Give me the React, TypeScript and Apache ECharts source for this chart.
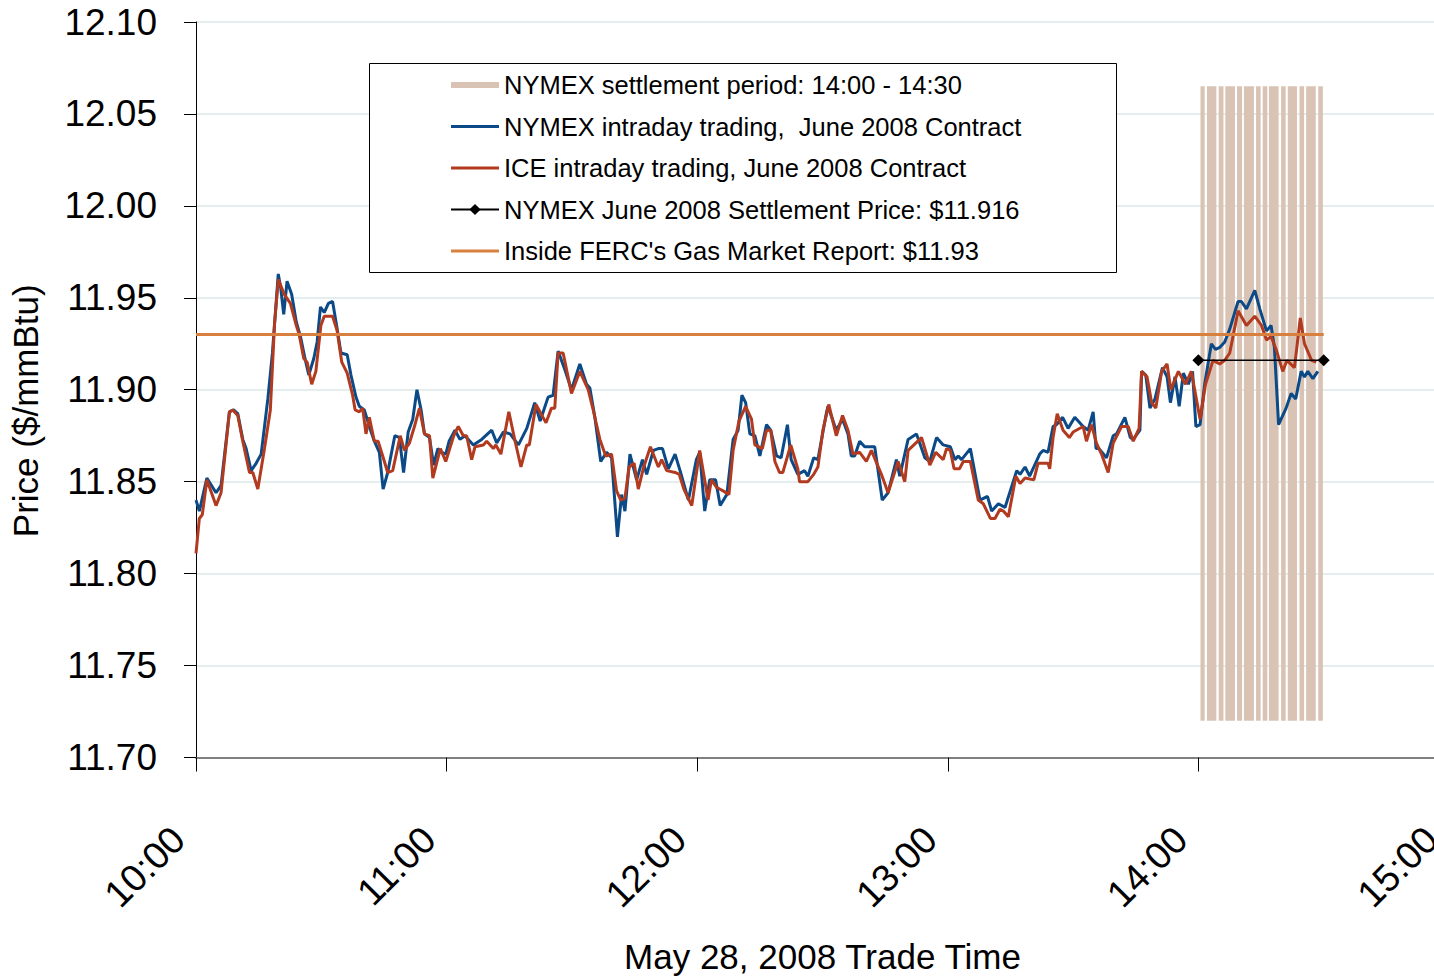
import React, { useEffect, useRef } from "react";
import * as echarts from "echarts";

// minutes after 10:00
const nymexTimes = [
  0, 0.8, 2.6, 4.8, 6, 8, 9, 10, 11.2, 12, 13.2, 14.4, 15.6, 17.2, 18.3, 19.7, 20.3, 21, 21.8, 22.9,
  24, 25.1, 26, 27, 28.2, 29, 29.8, 30.7, 31.7, 32.7, 33.8, 34.7, 36.2, 37.1, 38.3, 39.1, 40.3, 41.5, 42.7, 43.9,
  44.8, 45.9, 47.6, 48.7, 49.7, 50.8, 51.9, 52.9, 53.9, 54.7, 55.9, 56.9, 57.9, 58.7, 59.8, 60.6, 62, 63.2, 64.4, 66.4,
  68.4, 70.8, 72, 73.6, 75.2, 77.2, 79.2, 81.1, 82.4, 84.3, 85.5, 86.7, 88.3, 89.9, 91.9, 93.5, 94.3, 95.5, 96.9, 98.3,
  99.5, 100.9, 101.9, 102.7, 103.9, 105.5, 106.9, 107.9, 109.5, 110.7, 111.7, 113.1, 114.7, 115.9, 117.9, 119.8, 120.6, 121.8, 123, 124.4,
  125.5, 127.1, 128.6, 129.8, 130.7, 131.6, 132.6, 133.8, 135, 136.6, 137.6, 139, 140.1, 141.6, 142.5, 144.1, 145.7, 146.5, 147.9, 148.9,
  150.9, 151.3, 153.3, 154.8, 156.1, 156.9, 157.7, 158.9, 160.1, 162.5, 164.3, 165.7, 167.7, 168.5, 170.5, 172.5, 174.5, 175.7, 177.3, 178.9,
  180.6, 181.7, 182.5, 183.3, 185.4, 187.7, 189.5, 190.5, 192.1, 193.7, 196.5, 197.3, 198.5, 199.6, 202, 202.8, 204, 205.2, 206, 207.5,
  208.8, 210.4, 212.4, 213.6, 214.8, 215.5, 216.2, 218, 219.6, 220.4, 222.4, 223.7, 224.4, 226, 226.4, 227.4, 228.4, 229.6, 231.4, 232.5,
  233.3, 234.4, 235.4, 236.4, 237.6, 238.6, 239.4, 240.4, 241.5, 243.1, 244.1, 245.1, 246.3, 247.5, 249.5, 250.3, 251.5, 253.5, 254.7, 256.3,
  257.4, 258.2, 259.2, 261, 262.2, 263.3, 264.6, 265.4, 266.2, 267.4, 268.6,
];
const nymexPrices = [
  11.840, 11.834, 11.852, 11.844, 11.848, 11.888, 11.889, 11.887, 11.873, 11.868, 11.856, 11.860, 11.865, 11.895, 11.920, 11.963, 11.955, 11.941, 11.959, 11.952,
  11.937, 11.928, 11.918, 11.908, 11.917, 11.926, 11.945, 11.942, 11.947, 11.948, 11.933, 11.920, 11.919, 11.908, 11.896, 11.891, 11.889, 11.880, 11.872, 11.866,
  11.846, 11.855, 11.875, 11.874, 11.855, 11.877, 11.884, 11.900, 11.889, 11.876, 11.874, 11.859, 11.868, 11.866, 11.865, 11.872, 11.878, 11.873, 11.875, 11.870,
  11.873, 11.878, 11.871, 11.877, 11.876, 11.870, 11.879, 11.893, 11.883, 11.896, 11.897, 11.921, 11.911, 11.900, 11.914, 11.903, 11.901, 11.885, 11.861, 11.866,
  11.863, 11.820, 11.843, 11.834, 11.865, 11.851, 11.862, 11.854, 11.867, 11.868, 11.868, 11.857, 11.865, 11.856, 11.840, 11.862, 11.866, 11.834, 11.851, 11.851,
  11.837, 11.843, 11.873, 11.878, 11.897, 11.893, 11.876, 11.875, 11.864, 11.881, 11.878, 11.864, 11.863, 11.881, 11.862, 11.854, 11.856, 11.853, 11.863, 11.862,
  11.887, 11.891, 11.878, 11.884, 11.876, 11.864, 11.864, 11.872, 11.869, 11.869, 11.840, 11.844, 11.862, 11.853, 11.873, 11.876, 11.863, 11.861, 11.874, 11.870,
  11.869, 11.862, 11.864, 11.862, 11.868, 11.840, 11.842, 11.834, 11.838, 11.836, 11.856, 11.854, 11.858, 11.853, 11.865, 11.867, 11.866, 11.880, 11.881, 11.885,
  11.879, 11.885, 11.880, 11.878, 11.888, 11.868, 11.868, 11.863, 11.875, 11.876, 11.885, 11.874, 11.873, 11.878, 11.910, 11.908, 11.890, 11.895, 11.912, 11.907,
  11.893, 11.907, 11.891, 11.909, 11.903, 11.910, 11.880, 11.881, 11.903, 11.925, 11.922, 11.923, 11.926, 11.933, 11.948, 11.948, 11.944, 11.954, 11.944, 11.932,
  11.935, 11.923, 11.881, 11.890, 11.898, 11.895, 11.910, 11.907, 11.910, 11.906, 11.910,
];

const iceTimes = [
  0, 0.8, 1.5, 2.6, 4.8, 6, 8, 8.8, 10, 11.2, 12.8, 13.6, 14.8, 16.4, 17.8, 18.8, 19.7, 21.1, 22.6, 24,
  24.7, 25.8, 26.6, 27.7, 28.7, 29.9, 30.7, 32.7, 33.8, 34.9, 36.2, 37.5, 38.1, 39.1, 39.9, 40.7, 41.5, 42.7, 43.6, 44.7,
  45.9, 47.1, 48.9, 49.9, 51.1, 52.3, 53.5, 54.7, 55.9, 56.7, 58.5, 59.8, 61.7, 62.8, 64, 64.8, 66, 66.8, 68.8, 69.6,
  71.2, 71.8, 73, 74.9, 76.4, 77.8, 79.2, 79.8, 81.4, 83.8, 85.1, 85.9, 86.7, 87.9, 89.9, 91.9, 93.9, 95.1, 96.7, 98.1,
  99.5, 100.7, 101.7, 102.7, 103.7, 104.9, 105.9, 107.2, 108.8, 110.7, 111.5, 112.7, 114.7, 115.7, 116.8, 118.7, 120.6, 122.6, 123.4, 124.6,
  126.2, 127.6, 128.6, 130, 131.6, 133, 133.8, 135.6, 136.6, 137.6, 138.6, 139.7, 140.5, 142.4, 144.1, 144.5, 146.5, 147.9, 148.9, 150.1,
  151.5, 153.3, 154.8, 156.1, 157.3, 158.9, 160.5, 161.7, 164.1, 165.7, 168.1, 169.7, 170.5, 173.7, 175.7, 177.1, 178.9, 179.7, 180.6, 181.5,
  182.8, 183.7, 185.4, 187.3, 188.5, 190.2, 191.3, 192.5, 193.3, 194.5, 196.3, 197.3, 198.5, 200.6, 201.6, 204, 204.4, 205.2, 206.2, 207.6,
  209.1, 210, 212.4, 213.2, 214.4, 215.6, 216.8, 218.4, 219.6, 221.6, 223.2, 224.4, 225.8, 226.4, 227.7, 228.8, 229.8, 231.2, 232.5, 233.4,
  235.2, 236.9, 238.3, 240.4, 241.7, 243.5, 245.1, 246.3, 247.5, 249.5, 251.5, 253.5, 255.1, 256.3, 257.4, 258.6, 260.2, 261.2, 263, 264.4,
  265.4, 267.1, 268.2,
];
const icePrices = [
  11.811, 11.830, 11.832, 11.851, 11.837, 11.844, 11.888, 11.889, 11.886, 11.872, 11.855, 11.855, 11.846, 11.868, 11.889, 11.936, 11.960, 11.952, 11.947, 11.935,
  11.930, 11.917, 11.915, 11.903, 11.910, 11.935, 11.940, 11.940, 11.932, 11.915, 11.909, 11.897, 11.889, 11.888, 11.890, 11.876, 11.885, 11.872, 11.872, 11.864,
  11.855, 11.856, 11.875, 11.867, 11.871, 11.880, 11.890, 11.876, 11.875, 11.852, 11.868, 11.861, 11.875, 11.880, 11.875, 11.875, 11.862, 11.869, 11.870, 11.872,
  11.868, 11.870, 11.865, 11.888, 11.872, 11.858, 11.870, 11.870, 11.892, 11.882, 11.890, 11.890, 11.920, 11.920, 11.898, 11.910, 11.900, 11.889, 11.873, 11.864,
  11.865, 11.845, 11.840, 11.841, 11.858, 11.860, 11.846, 11.858, 11.869, 11.858, 11.862, 11.856, 11.855, 11.854, 11.846, 11.837, 11.867, 11.840, 11.851, 11.847,
  11.845, 11.843, 11.867, 11.883, 11.891, 11.884, 11.870, 11.868, 11.878, 11.878, 11.861, 11.855, 11.855, 11.870, 11.857, 11.850, 11.850, 11.854, 11.858, 11.878,
  11.892, 11.875, 11.886, 11.878, 11.865, 11.866, 11.861, 11.867, 11.854, 11.844, 11.861, 11.850, 11.867, 11.874, 11.859, 11.866, 11.862, 11.868, 11.867, 11.857,
  11.857, 11.861, 11.861, 11.840, 11.838, 11.830, 11.830, 11.835, 11.834, 11.831, 11.853, 11.849, 11.852, 11.851, 11.860, 11.860, 11.857, 11.874, 11.887, 11.878,
  11.874, 11.877, 11.880, 11.872, 11.881, 11.871, 11.865, 11.855, 11.871, 11.880, 11.880, 11.872, 11.879, 11.910, 11.907, 11.893, 11.890, 11.910, 11.914, 11.900,
  11.910, 11.903, 11.910, 11.884, 11.903, 11.916, 11.914, 11.916, 11.920, 11.943, 11.935, 11.940, 11.935, 11.927, 11.929, 11.922, 11.910, 11.916, 11.912, 11.939,
  11.925, 11.916, 11.915,
];

// settlement period band (14:00 - 14:30): start / end minute of each bar
const bandStarts = [240.5, 242.05, 244.85, 246.45, 249.25, 250.9, 253.8, 255.4, 256.9, 259.8, 261.4, 264.2, 265.8, 268.7];
const bandEnds = [241.5, 244.3, 246.0, 248.75, 250.45, 253.3, 254.9, 256.5, 259.2, 260.9, 263.6, 265.3, 268.1, 269.8];
const bandLow = 11.72;
const bandHigh = 12.065;

const settlementTimes = [240, 270];
const settlementPrice = 11.916;
const fercTimes = [0, 270];
const fercPrice = 11.93;

const xTickLabels = ["10:00", "11:00", "12:00", "13:00", "14:00", "15:00"];

const NAMES = [
  "NYMEX settlement period: 14:00 - 14:30",
  "NYMEX intraday trading,  June 2008 Contract",
  "ICE intraday trading, June 2008 Contract",
  "NYMEX June 2008 Settlement Price: $11.916",
  "Inside FERC's Gas Market Report: $11.93",
];

const C_BAND = "#d9c3b5";
const C_BLUE = "#0b4a86";
const C_RED = "#b23a1f";
const C_ORANGE = "#d9803e";

const FONT = "'Liberation Sans', Arial, sans-serif";

export default function App() {
  const ref = useRef<HTMLDivElement>(null);
  useEffect(() => {
    if (!ref.current) return;
    const chart = echarts.init(ref.current, undefined, { renderer: "svg" });
    const option: any = {
      animation: false,
      backgroundColor: "#ffffff",
      textStyle: { fontFamily: FONT, color: "#000" },
      grid: {
        left: 196,
        top: 22,
        right: -15,
        bottom: 218.5,
        containLabel: false,
        outerBoundsMode: "none",
      },
      graphic: [
        {
          type: "rect",
          z: 3,
          shape: { x: 369.5, y: 63.5, width: 747, height: 209 },
          style: { fill: "#fff", stroke: "#000", lineWidth: 1 },
        },
      ],
      legend: {
        orient: "vertical",
        left: 450,
        top: 72,
        z: 5,
        padding: 0,
        itemWidth: 48,
        itemHeight: 14,
        itemGap: 15.5,
        textStyle: { fontSize: 25.5, lineHeight: 26, color: "#000", fontFamily: FONT },
        data: [
          { name: NAMES[0], icon: "path://M0,0L48,0L48,6L0,6Z" },
          { name: NAMES[1], icon: "path://M0,0L48,0L48,3L0,3Z" },
          { name: NAMES[2], icon: "path://M0,0L48,0L48,3L0,3Z" },
          NAMES[3],
          { name: NAMES[4], icon: "path://M0,0L48,0L48,3L0,3Z" },
        ],
      },
      xAxis: {
        type: "value",
        min: 0,
        max: 300,
        interval: 60,
        name: "May 28, 2008 Trade Time",
        nameLocation: "middle",
        nameGap: 181,
        nameMoveOverlap: false,
        nameTextStyle: { fontSize: 35, color: "#000", fontFamily: FONT },
        axisLine: { show: true, lineStyle: { color: "#808080", width: 2 } },
        axisTick: { show: true, inside: false, length: 14, lineStyle: { color: "#000", width: 1 } },
        axisLabel: {
          rotate: 45,
          margin: 58,
          padding: [0, 25, 0, 0],
          fontSize: 38,
          color: "#000",
          fontFamily: FONT,
          formatter: (v: number) => xTickLabels[Math.round(v / 60)] ?? "",
        },
        splitLine: { show: false },
      },
      yAxis: {
        type: "value",
        min: 11.7,
        max: 12.1,
        interval: 0.05,
        name: "Price ($/mmBtu)",
        nameLocation: "middle",
        nameRotate: 90,
        nameGap: 153,
        nameMoveOverlap: false,
        nameTextStyle: { fontSize: 35, color: "#000", fontFamily: FONT, padding: [0, 42, 0, 0] },
        axisLine: { show: true, lineStyle: { color: "#000", width: 1 } },
        axisTick: { show: true, inside: false, length: 12, lineStyle: { color: "#000", width: 1 } },
        axisLabel: {
          margin: 39,
          fontSize: 37,
          color: "#000",
          fontFamily: FONT,
          formatter: (v: number) => v.toFixed(2),
        },
        splitLine: { show: true, lineStyle: { color: "#dbe8e8", width: 1.5 } },
      },
      series: [
        {
          name: NAMES[0],
          type: "custom",
          z: 1,
          itemStyle: { color: C_BAND },
          encode: { x: [0, 1], y: [2, 3] },
          data: bandStarts.map((s, i) => [s, bandEnds[i], bandLow, bandHigh]),
          renderItem: (params: any, api: any) => {
            const tl = api.coord([api.value(0), api.value(3)]);
            const br = api.coord([api.value(1), api.value(2)]);
            return {
              type: "rect",
              shape: { x: tl[0], y: tl[1], width: br[0] - tl[0], height: br[1] - tl[1] },
              style: { fill: C_BAND },
            };
          },
        },
        {
          name: NAMES[1],
          type: "line",
          z: 2,
          symbol: "none",
          color: C_BLUE,
          lineStyle: { color: C_BLUE, width: 3 },
          data: nymexTimes.map((t, i) => [t, nymexPrices[i]]),
        },
        {
          name: NAMES[2],
          type: "line",
          z: 3,
          symbol: "none",
          color: C_RED,
          lineStyle: { color: C_RED, width: 3 },
          data: iceTimes.map((t, i) => [t, icePrices[i]]),
        },
        {
          name: NAMES[3],
          type: "line",
          z: 4,
          symbol: "diamond",
          symbolSize: 12,
          color: "#000",
          itemStyle: { color: "#000" },
          lineStyle: { color: "#000", width: 1.5 },
          data: settlementTimes.map((t) => [t, settlementPrice]),
        },
        {
          name: NAMES[4],
          type: "line",
          z: 4,
          symbol: "none",
          color: C_ORANGE,
          lineStyle: { color: C_ORANGE, width: 3 },
          data: fercTimes.map((t) => [t, fercPrice]),
        },
      ],
    };
    chart.setOption(option);
    return () => chart.dispose();
  }, []);
  return (
    <div
      ref={ref}
      style={{ position: "absolute", left: 0, top: 0, width: 1434, height: 976, background: "#fff" }}
    />
  );
}
